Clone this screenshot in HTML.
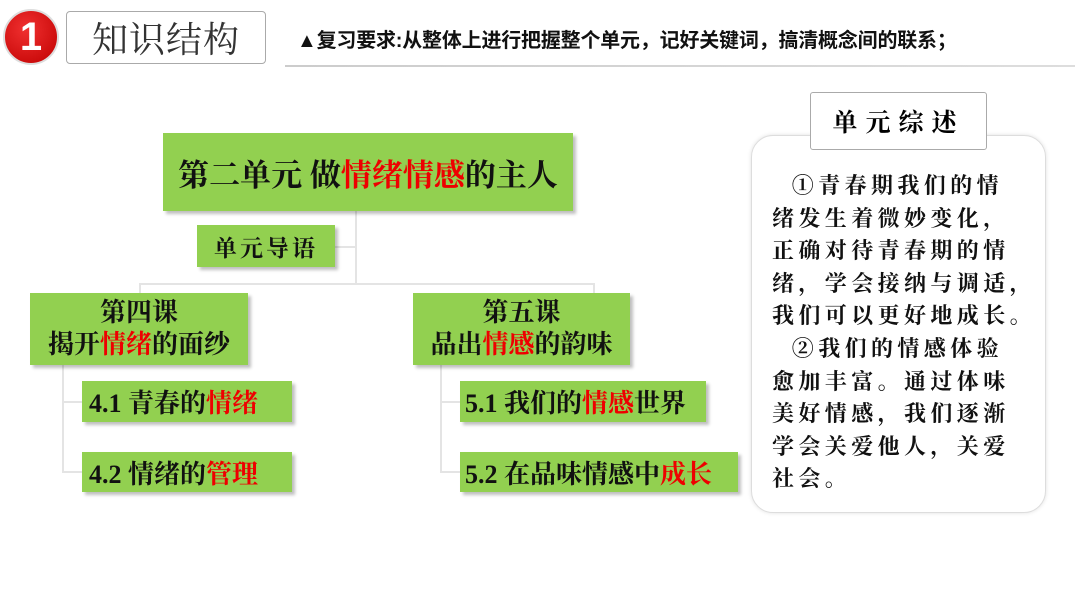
<!DOCTYPE html>
<html><head><meta charset="utf-8"><style>
body{margin:0;width:1080px;height:607px;background:#fff;position:relative;overflow:hidden;font-family:"Liberation Serif","Noto Serif CJK SC",serif;}
.a{position:absolute;box-sizing:border-box}
.g{background:#92d050;box-shadow:3px 3px 3px rgba(0,0,0,.25);color:#111;display:flex;align-items:center;justify-content:center;text-align:center;white-space:nowrap}
.r{color:#e00}
.l{background:#e4e4e4}
.k{font-family:"Liberation Serif","Noto Serif CJK SC",serif;font-weight:bold}
</style></head><body>
<div class="a" style="left:3px;top:9px;width:56px;height:56px;border-radius:50%;background:radial-gradient(circle at 40% 35%,#f03030,#c00000);border:2px solid #ddd;color:#fff;font:bold 40px 'Liberation Sans',sans-serif;display:flex;align-items:center;justify-content:center">1</div>
<div class="a" style="left:66px;top:11px;width:200px;height:53px;border:1px solid #aaa;border-radius:4px;font-size:36px;color:#333;display:flex;align-items:center;justify-content:center;letter-spacing:1px">知识结构</div>
<div class="a" style="left:297px;top:24px;font:bold 20px 'Liberation Sans','Noto Sans CJK SC',sans-serif;color:#111;white-space:nowrap;letter-spacing:-0.2px">▲复习要求:从整体上进行把握整个单元，记好关键词，搞清概念间的联系；</div>
<div class="a" style="left:285px;top:65px;width:790px;height:2px;background:linear-gradient(90deg,#ccc,#ddd)"></div>

<div class="a l" style="left:355px;top:211px;width:2px;height:73px"></div>
<div class="a l" style="left:335px;top:246px;width:20px;height:2px"></div>
<div class="a l" style="left:139px;top:283px;width:455px;height:2px"></div>
<div class="a l" style="left:139px;top:283px;width:2px;height:10px"></div>
<div class="a l" style="left:593px;top:283px;width:2px;height:10px"></div>
<div class="a l" style="left:62px;top:365px;width:2px;height:108px"></div>
<div class="a l" style="left:62px;top:401px;width:20px;height:2px"></div>
<div class="a l" style="left:62px;top:471px;width:20px;height:2px"></div>
<div class="a l" style="left:440px;top:365px;width:2px;height:108px"></div>
<div class="a l" style="left:440px;top:401px;width:20px;height:2px"></div>
<div class="a l" style="left:440px;top:471px;width:20px;height:2px"></div>

<div class="a g k" style="left:163px;top:133px;width:410px;height:78px;font-size:31px">第二单元&nbsp;做<span class="r">情绪情感</span>的主人</div>
<div class="a g" style="left:197px;top:225px;width:138px;height:42px;font-size:23px;letter-spacing:3px;font-family:'Noto Serif CJK SC',serif;font-weight:bold">单元导语</div>
<div class="a g k" style="left:30px;top:293px;width:218px;height:72px;font-size:26px;flex-direction:column;line-height:32px">第四课<div>揭开<span class="r">情绪</span>的面纱</div></div>
<div class="a g k" style="left:413px;top:293px;width:217px;height:72px;font-size:26px;flex-direction:column;line-height:32px">第五课<div>品出<span class="r">情感</span>的韵味</div></div>
<div class="a g k" style="left:82px;top:381px;width:210px;height:41px;font-size:26px;justify-content:flex-start;padding-left:7px">4.1 青春的<span class="r">情绪</span></div>
<div class="a g k" style="left:82px;top:452px;width:210px;height:40px;font-size:26px;justify-content:flex-start;padding-left:7px">4.2 情绪的<span class="r">管理</span></div>
<div class="a g k" style="left:460px;top:381px;width:246px;height:41px;font-size:26px;justify-content:flex-start;padding-left:5px">5.1 我们的<span class="r">情感</span>世界</div>
<div class="a g k" style="left:460px;top:452px;width:278px;height:40px;font-size:26px;justify-content:flex-start;padding-left:5px">5.2 在品味情感中<span class="r">成长</span></div>

<div class="a" style="left:751px;top:135px;width:295px;height:378px;border:1px solid #ddd;border-radius:22px;box-shadow:0 0 4px rgba(0,0,0,.12);background:#fff"></div>
<div class="a" style="left:810px;top:92px;width:177px;height:58px;border:1px solid #aaa;border-radius:3px;background:#fff;font-size:25px;font-weight:bold;letter-spacing:8px;display:flex;align-items:center;justify-content:center;font-family:'Noto Serif CJK SC',serif">单元综述</div>
<div class="a" style="left:772px;top:169px;width:275px;font-size:22px;line-height:32.6px;color:#111;font-weight:bold;letter-spacing:4.4px;font-family:'Noto Serif CJK SC',serif;white-space:nowrap">
<div>&nbsp;&nbsp;①青春期我们的情</div>
<div>绪发生着微妙变化，</div>
<div>正确对待青春期的情</div>
<div>绪，学会接纳与调适，</div>
<div>我们可以更好地成长。</div>
<div>&nbsp;&nbsp;②我们的情感体验</div>
<div>愈加丰富。通过体味</div>
<div>美好情感，我们逐渐</div>
<div>学会关爱他人，关爱</div>
<div>社会。</div>
</div>
</body></html>
